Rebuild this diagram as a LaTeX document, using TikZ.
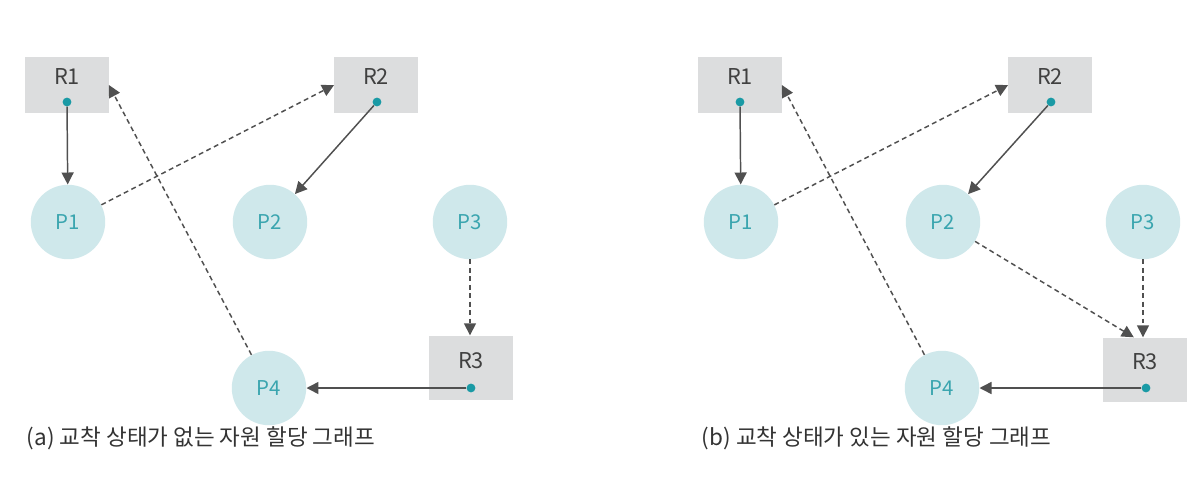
\documentclass[tikz,border=0pt]{standalone}
\usepackage{fontspec}
\setmainfont{Noto Sans CJK KR}
\usetikzlibrary{arrows.meta}
\definecolor{boxgray}{HTML}{DCDDDE}
\definecolor{procfill}{HTML}{CFE8EB}
\definecolor{proctext}{HTML}{3AA5AF}
\definecolor{dotteal}{HTML}{1A9AA5}
\definecolor{linegray}{HTML}{505050}
\definecolor{labgray}{HTML}{404040}

\begin{document}
\begin{tikzpicture}[x=0.025cm,y=-0.025cm,
 every node/.style={font=\fontsize{14.5}{16}\selectfont},
 res/.style={fill=boxgray,minimum width=2.08cm,minimum height=1.4cm,inner sep=0},
 rlab/.style={text=labgray,font=\fontsize{15.5}{17}\selectfont},
 proc/.style={circle,fill=procfill,text=proctext,minimum size=1.86cm,inner sep=0},
 dot/.style={circle,fill=dotteal,minimum size=0.22cm,inner sep=0},
 arr/.style={-{Triangle[length=0.3cm,width=0.3cm]},color=linegray,line width=1.05pt},
 dsh/.style={arr,dash pattern=on 3.5pt off 2.5pt},
 captxt/.style={anchor=west,text=black!80,font=\fontsize{16}{18}\selectfont}]
\useasboundingbox (0,0) rectangle (1202,500);
% (a) no deadlock
\node[res] (a-R1) at (67,85) {};
\node[res] (a-R2) at (376,85) {};
\node[res,minimum height=1.62cm] (a-R3) at (471,368) {};
\node[rlab] at (67,77) {R1};
\node[rlab] at (376,77) {R2};
\node[rlab] at (471,361) {R3};
\node[dot] (a-r1) at (67,102) {};
\node[dot] (a-r2) at (377,102) {};
\node[dot] (a-r3) at (471,388) {};
\node[proc] (a-P1) at (68,222) {P1};
\node[proc] (a-P2) at (270,222) {P2};
\node[proc] (a-P3) at (470,222) {P3};
\node[proc] (a-P4) at (269,388) {P4};
\draw[arr] (a-r1) -- (a-P1);
\draw[dsh] (a-P1) -- (a-R2.west);
\draw[arr] (a-r2) -- (a-P2);
\draw[dsh] (a-P4) -- (a-R1.east);
\draw[dsh] (a-P3) -- (a-P3 |- a-R3.north);
\draw[arr] (a-r3) -- (a-P4);
\node[captxt] (a-cap) at (22,438) {(a) 교착 상태가 없는 자원 할당 그래프};
% (b) deadlock
\node[res] (b-R1) at (740,85) {};
\node[res] (b-R2) at (1050,85) {};
\node[res,minimum height=1.62cm] (b-R3) at (1145,370) {};
\node[rlab] at (740,77) {R1};
\node[rlab] at (1050,77) {R2};
\node[rlab] at (1145,362) {R3};
\node[dot] (b-r1) at (740,102) {};
\node[dot] (b-r2) at (1051,102) {};
\node[dot] (b-r3) at (1146,388) {};
\node[proc] (b-P1) at (741,222) {P1};
\node[proc] (b-P2) at (943,222) {P2};
\node[proc] (b-P3) at (1143,222) {P3};
\node[proc] (b-P4) at (942,388) {P4};
\draw[arr] (b-r1) -- (b-P1);
\draw[dsh] (b-P1) -- (b-R2.west);
\draw[arr] (b-r2) -- (b-P2);
\draw[dsh] (b-P4) -- (b-R1.east);
\draw[dsh] (b-P2) -- ([xshift=-0.28cm]b-R3.north);
\draw[dsh] (b-P3) -- (b-P3 |- b-R3.north);
\draw[arr] (b-r3) -- (b-P4);
\node[captxt] (b-cap) at (697,438) {(b) 교착 상태가 있는 자원 할당 그래프};
\end{tikzpicture}
\end{document}
